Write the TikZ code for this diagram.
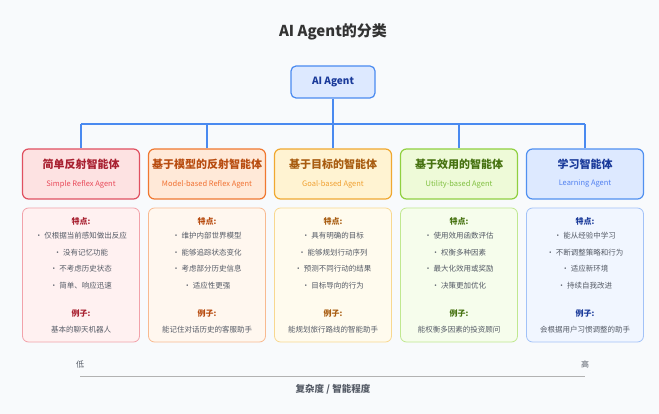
\documentclass[tikz,border=0pt]{standalone}
\usepackage{fontspec}
\setmainfont{Noto Sans CJK SC}
\usetikzlibrary{positioning, calc}
\definecolor{bgc}{HTML}{F8FAFC}
\definecolor{txtc}{HTML}{555B66}
\definecolor{linec}{HTML}{4A8AF0}
% column colours: border, fill, title, subtitle, detail fill, detail border
\definecolor{rB}{HTML}{E05060}\definecolor{rF}{HTML}{FDE2E2}\definecolor{rT}{HTML}{A82030}\definecolor{rS}{HTML}{E84858}\definecolor{rD}{HTML}{FFF1F1}\definecolor{rE}{HTML}{F2A2AA}
\definecolor{oB}{HTML}{F07830}\definecolor{oF}{HTML}{FFE9D8}\definecolor{oT}{HTML}{B84C10}\definecolor{oS}{HTML}{F07030}\definecolor{oD}{HTML}{FFF7EF}\definecolor{oE}{HTML}{F8BA90}
\definecolor{yB}{HTML}{F0A830}\definecolor{yF}{HTML}{FFF3D2}\definecolor{yT}{HTML}{A85C10}\definecolor{yS}{HTML}{F0A030}\definecolor{yD}{HTML}{FFFBEE}\definecolor{yE}{HTML}{F8D890}
\definecolor{gB}{HTML}{90D040}\definecolor{gF}{HTML}{EEFAD8}\definecolor{gT}{HTML}{467210}\definecolor{gS}{HTML}{80C040}\definecolor{gD}{HTML}{F6FDEC}\definecolor{gE}{HTML}{C0E890}
\definecolor{bB}{HTML}{5090F0}\definecolor{bF}{HTML}{DDE9FF}\definecolor{bT}{HTML}{1A3A9A}\definecolor{bS}{HTML}{5080F0}\definecolor{bD}{HTML}{F1F6FF}\definecolor{bE}{HTML}{A2C2F8}

\newcommand{\agentcol}[7]{%
  % #1 name, #2 x, #3 colour prefix, #4 title, #5 subtitle, #6 bullets, #7 example
  \node[head, draw=#3B, fill=#3F] (#1) at (#2,174) {};
  \node[font=\fontsize{11}{13}\selectfont\bfseries, text=#3T] at (#2,164) {#4};
  \node[font=\fontsize{7.5}{9}\selectfont, text=#3S] at (#2,184) {#5};
  \node[detail, draw=#3E, fill=#3D] (#1d) at (#2,275) {};
  \node[font=\fontsize{8}{9}\selectfont\bfseries, text=#3T] at (#2,221) {特点:};
  \node[font=\fontsize{7.5}{16.5}\selectfont, text=txtc, align=center, anchor=north] at (#2,229) {#6};
  \node[font=\fontsize{8}{9}\selectfont\bfseries, text=#3T] at (#2,313) {例子:};
  \node[font=\fontsize{7.5}{9}\selectfont, text=txtc] at (#2,330) {#7};
  \draw[conn] (#1.north) -- (#2,124);
}

\begin{document}
\begin{tikzpicture}[x=1pt, y=-1pt,
  head/.style = {rounded corners=6pt, line width=1.2pt, minimum width=117pt, minimum height=50pt, inner sep=0pt},
  detail/.style = {rounded corners=6pt, line width=0.8pt, minimum width=117pt, minimum height=134pt, inner sep=0pt},
  conn/.style = {draw=linec, line width=1.3pt}]
  \fill[bgc] (0,0) rectangle (659,414);
  \node[font=\fontsize{15}{17}\selectfont\bfseries, text=black!80] (title) at (333,32) {AI Agent的分类};
  \node[rounded corners=5pt, draw=linec, line width=1.2pt, fill=bF, minimum width=84pt, minimum height=32pt,
    font=\fontsize{10}{12}\selectfont\bfseries, text=bT] (root) at (333,82) {AI Agent};
  \coordinate (hub) at (333,124);
  \draw[conn] (root.south) -- (hub);
  \draw[conn] (81,124) -- (585,124);
  \agentcol{simple}{81}{r}{简单反射智能体}{Simple Reflex Agent}{· 仅根据当前感知做出反应\\· 没有记忆功能\\· 不考虑历史状态\\· 简单、响应迅速}{基本的聊天机器人}
  \agentcol{model}{207}{o}{基于模型的反射智能体}{Model-based Reflex Agent}{· 维护内部世界模型\\· 能够追踪状态变化\\· 考虑部分历史信息\\· 适应性更强}{能记住对话历史的客服助手}
  \agentcol{goal}{333}{y}{基于目标的智能体}{Goal-based Agent}{· 具有明确的目标\\· 能够规划行动序列\\· 预测不同行动的结果\\· 目标导向的行为}{能规划旅行路线的智能助手}
  \agentcol{utility}{459}{g}{基于效用的智能体}{Utility-based Agent}{· 使用效用函数评估\\· 权衡多种因素\\· 最大化效用或奖励\\· 决策更加优化}{能权衡多因素的投资顾问}
  \agentcol{learn}{585}{b}{学习智能体}{Learning Agent}{· 能从经验中学习\\· 不断调整策略和行为\\· 适应新环境\\· 持续自我改进}{会根据用户习惯调整的助手}
  % complexity axis
  \coordinate (low) at (80,376);
  \coordinate (high) at (585,376);
  \draw[draw=gray!60, line width=1pt] (low) -- (high);
  \node[font=\fontsize{8}{9}\selectfont, text=txtc] (lowlab) at (80,364) {低};
  \node[font=\fontsize{8}{9}\selectfont, text=txtc] (highlab) at (585,364) {高};
  \node[font=\fontsize{9.5}{11}\selectfont\bfseries, text=txtc] (axislab) at (333,389) {复杂度 / 智能程度};
\end{tikzpicture}
\end{document}
